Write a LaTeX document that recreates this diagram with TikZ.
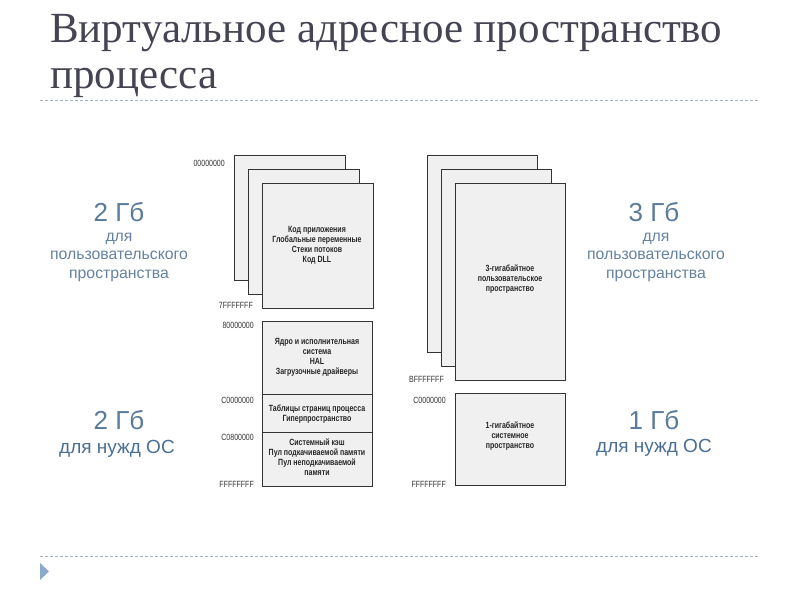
\documentclass[tikz,border=0pt]{standalone}
\usepackage{fontspec}
\setmainfont{Liberation Serif}
\newfontfamily\sidefont{Liberation Sans}
\newfontfamily\narrowfont[FakeStretch=0.78]{Liberation Sans}
\usepackage{tikz}

\definecolor{titlegray}{RGB}{68,68,82}
\definecolor{sideblue}{RGB}{88,122,155}
\definecolor{lightblue}{RGB}{100,130,160}
\definecolor{osblue}{RGB}{74,110,148}
\definecolor{rulegray}{RGB}{165,180,195}
\definecolor{markblue}{RGB}{140,168,204}
\definecolor{pagefill}{RGB}{240,240,240}

\tikzset{
  pagebox/.style={draw=black!80, fill=pagefill, line width=0.8pt},
  pagetext/.style={font=\narrowfont\bfseries\fontsize{9}{10}\selectfont, align=center, text=black!85},
  addr/.style={font=\narrowfont\fontsize{9}{9}\selectfont, anchor=east, inner sep=0pt, text=black!80},
  bigsize/.style={font=\sidefont\fontsize{26}{28}\selectfont, text=sideblue},
  smallsize/.style={font=\sidefont\fontsize{15.8}{18.5}\selectfont, align=center, text=lightblue},
  ossize/.style={font=\sidefont\fontsize{19}{21}\selectfont, text=osblue}
}

\begin{document}
\begin{tikzpicture}[x=1pt,y=-1pt]
\useasboundingbox (0,0) rectangle (800,600);

% title and rules
\node[anchor=base west, inner sep=0pt, text=titlegray, font=\fontsize{43}{44}\selectfont] (title1) at (50,42) {Виртуальное адресное пространство};
\node[anchor=base west, inner sep=0pt, text=titlegray, font=\fontsize{43}{44}\selectfont] (title2) at (50,88) {процесса};
\draw[rulegray, dash pattern=on 3pt off 2pt, line width=0.6pt] (40,100) -- (760,100);
\draw[rulegray, dash pattern=on 3pt off 2pt, line width=0.6pt] (40,556) -- (760,556);
\fill[markblue] (40,563) -- (49,571.5) -- (40,580) -- cycle;

% left map: user part
\foreach \d in {0,14,28} {
\draw[pagebox] (234+\d,155+\d) rectangle (345+\d,280+\d);
}
\node[pagetext] (lcode) at (317,245.5) {Код приложения\\Глобальные переменные\\Стеки потоков\\Код DLL};

% left map: system part
\draw[pagebox] (262,321) rectangle (372,486);
\draw[black!80, line width=0.8pt] (262,394) -- (372,394);
\draw[black!80, line width=0.8pt] (262,432) -- (372,432);
\node[pagetext] (lkern) at (317,357.5) {Ядро и исполнительная\\система\\HAL\\Загрузочные драйверы};
\node[pagetext] (lpage) at (317,414) {Таблицы страниц процесса\\Гиперпространство};
\node[pagetext] (lpool) at (317,457.5) {Системный кэш\\Пул подкачиваемой памяти\\Пул неподкачиваемой\\памяти};

\node[addr] (a1) at (225,163) {00000000};
\node[addr] (a2) at (253,305) {7FFFFFFF};
\node[addr] (a3) at (254,325) {80000000};
\node[addr] (a4) at (254,400) {C0000000};
\node[addr] (a5) at (254,437.5) {C0800000};
\node[addr] (a6) at (254,484) {FFFFFFFF};

% right map
\foreach \d in {0,14,28} {
\draw[pagebox] (427+\d,155+\d) rectangle (537+\d,352+\d);
}
\node[pagetext] (rcode) at (510,279) {3-гигабайтное\\пользовательское\\пространство};
\draw[pagebox] (455,393) rectangle (565,485);
\node[pagetext] (rkern) at (510,436.5) {1-гигабайтное\\системное\\пространство};

\node[addr] (b1) at (444,379) {BFFFFFFF};
\node[addr] (b2) at (446,400) {C0000000};
\node[addr] (b3) at (446,484) {FFFFFFFF};

% side notes
\node[bigsize] (lbig) at (119,212) {2 Гб};
\node[smallsize] (lsmall) at (119,257) {для\\пользовательского\\пространства};
\node[bigsize] (lbigos) at (119,420) {2 Гб};
\node[ossize] (los) at (117,449) {для нужд ОС};

\node[bigsize] (rbig) at (654,212) {3 Гб};
\node[smallsize] (rsmall) at (656,257) {для\\пользовательского\\пространства};
\node[bigsize] (rbigos) at (654,420) {1 Гб};
\node[ossize] (ros) at (654,448) {для нужд ОС};
\end{tikzpicture}
\end{document}
